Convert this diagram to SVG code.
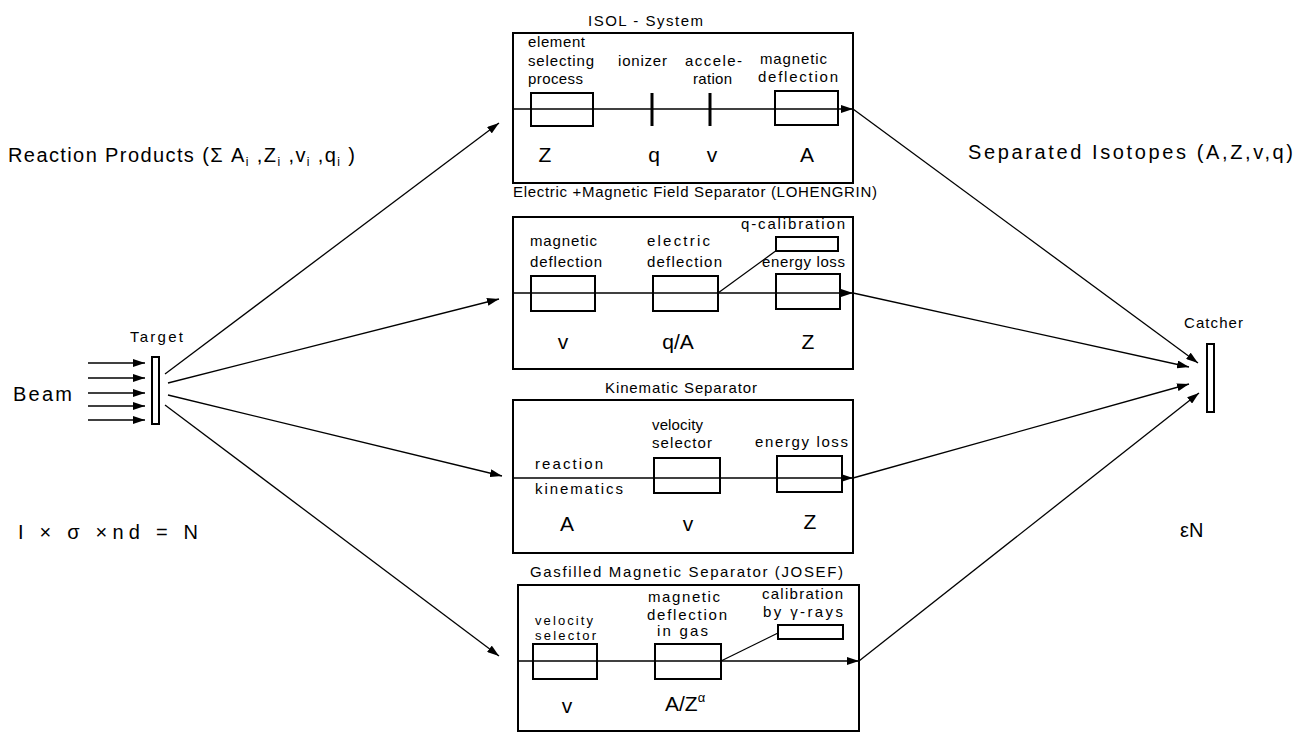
<svg xmlns="http://www.w3.org/2000/svg" width="1315" height="733" viewBox="0 0 1315 733">
<defs>
<marker id="ah" viewBox="0 0 12 8" refX="12" refY="4" markerWidth="12" markerHeight="8" markerUnits="userSpaceOnUse" orient="auto">
<path d="M0,0 L12,4 L0,8 Z" fill="#000"/>
</marker>
<style>
text{font-family:"Liberation Sans","DejaVu Sans",sans-serif;fill:#000}
.big{font-size:20px}
.title{font-size:15px}
.lbl{font-size:15px}
.sm{font-size:13px}
.sym{font-size:21px}
.frame{fill:none;stroke:#000;stroke-width:2}
.el{fill:none;stroke:#000;stroke-width:2}
.beam{fill:none;stroke:#000;stroke-width:1.5}
.ray{fill:none;stroke:#000;stroke-width:1.3}
.bar{stroke:#000;stroke-width:3}
</style>
</defs>
<rect width="1315" height="733" fill="#fff"/>

<g id="beam">
<text class="big" x="13" y="401" textLength="59">Beam</text>
<line class="beam" x1="88" y1="363" x2="145" y2="363" marker-end="url(#ah)"/>
<line class="beam" x1="88" y1="378" x2="145" y2="378" marker-end="url(#ah)"/>
<line class="beam" x1="88" y1="393" x2="145" y2="393" marker-end="url(#ah)"/>
<line class="beam" x1="88" y1="406" x2="145" y2="406" marker-end="url(#ah)"/>
<line class="beam" x1="88" y1="420" x2="145" y2="420" marker-end="url(#ah)"/>
</g>

<g id="target">
<text class="lbl" x="130" y="342" textLength="53">Target</text>
<rect class="frame" x="152" y="357" width="7" height="67" stroke-width="1.8"/>
</g>

<g id="catcher">
<text class="lbl" x="1184" y="328" textLength="59">Catcher</text>
<rect class="frame" x="1207" y="344" width="7" height="68" stroke-width="1.8"/>
</g>

<g id="texts">
<text class="big" x="8" y="162" font-size="19" textLength="347">Reaction Products (Σ A<tspan font-size="12" dy="4">i</tspan><tspan dy="-4"> ,Z</tspan><tspan font-size="12" dy="4">i</tspan><tspan dy="-4"> ,v</tspan><tspan font-size="12" dy="4">i</tspan><tspan dy="-4"> ,q</tspan><tspan font-size="12" dy="4">i</tspan><tspan dy="-4"> )</tspan></text>
<text class="big" x="968" y="159" textLength="325">Separated Isotopes (A,Z,v,q)</text>
<text class="big" x="18" y="539" textLength="180">I × σ ×nd = N</text>
<text class="big" x="1180" y="537" font-size="22">εN</text>
</g>

<g id="isol">
<text class="title" x="588" y="26" textLength="115">ISOL - System</text>
<rect class="frame" x="513" y="33" width="340" height="150"/>
<line class="beam" x1="513" y1="109" x2="853" y2="109" marker-end="url(#ah)"/>
<rect class="el" x="531" y="93" width="62" height="33"/>
<line class="bar" x1="652" y1="93" x2="652" y2="126"/>
<line class="bar" x1="710" y1="93" x2="710" y2="126"/>
<rect class="el" x="775" y="91" width="63" height="34"/>
<text class="lbl" x="528" y="47" textLength="57">element</text>
<text class="lbl" x="528" y="66" textLength="66">selecting</text>
<text class="lbl" x="528" y="84" textLength="55">process</text>
<text class="lbl" x="618" y="66" textLength="49">ionizer</text>
<text class="lbl" x="685" y="66" textLength="57">accele-</text>
<text class="lbl" x="693" y="84" textLength="39">ration</text>
<text class="lbl" x="760" y="64" textLength="67">magnetic</text>
<text class="lbl" x="758" y="82" textLength="80">deflection</text>
<text class="sym" x="545" y="162" text-anchor="middle">Z</text>
<text class="sym" x="654" y="162" text-anchor="middle">q</text>
<text class="sym" x="712" y="162" text-anchor="middle">v</text>
<text class="sym" x="807" y="162" text-anchor="middle">A</text>
</g>

<g id="lohengrin">
<text class="title" x="513" y="197" textLength="364">Electric +Magnetic Field  Separator (LOHENGRIN)</text>
<rect class="frame" x="513" y="217" width="340" height="152"/>
<line class="beam" x1="513" y1="293" x2="853" y2="293" marker-end="url(#ah)"/>
<rect class="el" x="531" y="276" width="64" height="35"/>
<rect class="el" x="653" y="276" width="65" height="35"/>
<rect class="el" x="776" y="274" width="64" height="35"/>
<rect class="el" x="776" y="237" width="62" height="14"/>
<line class="ray" x1="718" y1="293" x2="777" y2="250"/>
<text class="lbl" x="530" y="246" textLength="67">magnetic</text>
<text class="lbl" x="530" y="267" textLength="72">deflection</text>
<text class="lbl" x="647" y="246" textLength="63">electric</text>
<text class="lbl" x="647" y="267" textLength="75">deflection</text>
<text class="lbl" x="741" y="229" textLength="104">q-calibration</text>
<text class="lbl" x="762" y="267" textLength="83">energy loss</text>
<text class="sym" x="563" y="349" text-anchor="middle">v</text>
<text class="sym" x="678" y="349" text-anchor="middle">q/A</text>
<text class="sym" x="808" y="349" text-anchor="middle">Z</text>
</g>

<g id="kinematic">
<text class="title" x="605" y="393" textLength="152">Kinematic Separator</text>
<rect class="frame" x="513" y="400" width="340" height="153"/>
<line class="beam" x1="513" y1="478" x2="853" y2="478" marker-end="url(#ah)"/>
<rect class="el" x="654" y="458" width="66" height="35"/>
<rect class="el" x="777" y="456" width="65" height="36"/>
<text class="lbl" x="652" y="430" textLength="51">velocity</text>
<text class="lbl" x="652" y="448" textLength="60">selector</text>
<text class="lbl" x="755" y="447" textLength="93">energy loss</text>
<text class="lbl" x="535" y="469" textLength="68">reaction</text>
<text class="lbl" x="535" y="494" textLength="88">kinematics</text>
<text class="sym" x="567" y="531" text-anchor="middle">A</text>
<text class="sym" x="688" y="531" text-anchor="middle">v</text>
<text class="sym" x="810" y="529" text-anchor="middle">Z</text>
</g>

<g id="josef">
<text class="title" x="530" y="577" textLength="313">Gasfilled  Magnetic Separator (JOSEF)</text>
<rect class="frame" x="518" y="585" width="341" height="146"/>
<line class="beam" x1="518" y1="661" x2="859" y2="661" marker-end="url(#ah)"/>
<rect class="el" x="533" y="644" width="64" height="35"/>
<rect class="el" x="655" y="644" width="66" height="35"/>
<rect class="el" x="778" y="625" width="65" height="14"/>
<line class="ray" x1="721" y1="661" x2="778" y2="633"/>
<text class="sm" x="535" y="625" textLength="58">velocity</text>
<text class="sm" x="535" y="640" textLength="61">selector</text>
<text class="lbl" x="648" y="602" textLength="72">magnetic</text>
<text class="lbl" x="647" y="620" textLength="80">deflection</text>
<text class="lbl" x="657" y="636" textLength="51">in gas</text>
<text class="lbl" x="762" y="599" textLength="81">calibration</text>
<text class="lbl" x="763" y="617" textLength="80">by γ-rays</text>
<text class="sym" x="567" y="713" text-anchor="middle">v</text>
<text class="sym" x="665" y="711">A/Z<tspan font-size="13" dy="-9">α</tspan></text>
</g>

<g id="connectors">
<line class="ray" x1="165" y1="374" x2="499" y2="123" marker-end="url(#ah)"/>
<line class="ray" x1="168" y1="383" x2="499" y2="299" marker-end="url(#ah)"/>
<line class="ray" x1="168" y1="395" x2="502" y2="476" marker-end="url(#ah)"/>
<line class="ray" x1="165" y1="405" x2="499" y2="656" marker-end="url(#ah)"/>
<line class="ray" x1="853" y1="109" x2="1198" y2="363" marker-end="url(#ah)"/>
<line class="ray" x1="853" y1="293" x2="1189" y2="367" marker-end="url(#ah)"/>
<line class="ray" x1="853" y1="478" x2="1189" y2="384" marker-end="url(#ah)"/>
<line class="ray" x1="859" y1="661" x2="1199" y2="393" marker-end="url(#ah)"/>
</g>
</svg>
